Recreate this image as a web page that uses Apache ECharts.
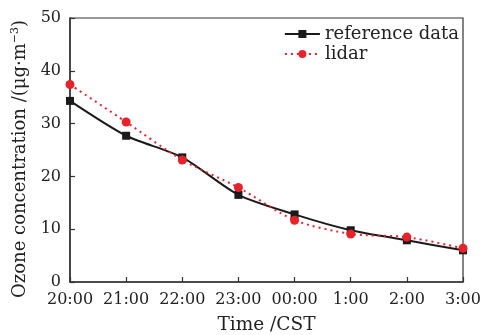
<!DOCTYPE html>
<html><head><meta charset="utf-8">
<script src="https://cdn.jsdelivr.net/npm/echarts@6/dist/echarts.min.js"></script>
<style>html,body{margin:0;padding:0;background:#fff}#c{width:483px;height:335px}</style>
</head><body><div id="c"></div>
<script>
const categories = ['20:00','21:00','22:00','23:00','00:00','1:00','2:00','3:00'];
const referenceData = [34.3, 27.7, 23.6, 16.5, 12.8, 9.8, 7.9, 6.0];
const lidarData = [37.4, 30.3, 23.1, 17.9, 11.7, 9.1, 8.5, 6.4];
const yTicks = [0, 10, 20, 30, 40, 50];

const font = 'DejaVu Serif';
const txt = '#222';
const chart = echarts.init(document.getElementById('c'));
chart.setOption({
  animation: false,
  textStyle: {fontFamily: font},
  grid: {left: 70, right: 20, top: 18, bottom: 53, show: true, borderColor: '#333', borderWidth: 1.2, outerBoundsMode: 'none', containLabel: false},
  legend: {
    top: 20, right: 19, orient: 'vertical', itemGap: 2,
    itemWidth: 35, itemHeight: 10,
    textStyle: {fontFamily: font, fontSize: 18, color: txt},
    data: ['reference data', 'lidar']
  },
  xAxis: {
    type: 'category', data: categories, boundaryGap: false,
    axisLine: {lineStyle: {color: '#333', width: 1.5}},
    axisTick: {inside: true, length: 5, interval: 0, lineStyle: {color: '#333', width: 1.2}},
    axisLabel: {fontSize: 16, color: txt, margin: 10, fontFamily: font, interval: 0},
    splitLine: {show: false},
    name: 'Time /CST', nameLocation: 'middle', nameGap: 34,
    nameTextStyle: {fontSize: 18.5, color: txt, fontFamily: font}
  },
  yAxis: {
    type: 'value', min: yTicks[0], max: yTicks[yTicks.length-1], interval: 10,
    axisLine: {show: true, lineStyle: {color: '#333', width: 1.5}},
    axisTick: {show: true, inside: true, length: 5, lineStyle: {color: '#333', width: 1.2}},
    axisLabel: {fontSize: 16, color: txt, margin: 9, fontFamily: font},
    splitLine: {show: false},
    name: '{n|Ozone concentration /(μg·m}{s|−3}{n|)}', nameLocation: 'middle', nameGap: 40,
    nameTextStyle: {
      fontSize: 18, color: txt, fontFamily: font, padding: [0, 18, 0, 0],
      rich: {n: {fontSize: 18, color: txt, fontFamily: font}, s: {fontSize: 11, color: txt, fontFamily: font, verticalAlign: 'top', padding: [0,0,9,0]}}
    }
  },
  series: [
    {
      name: 'reference data', type: 'line', data: referenceData, smooth: 0.25,
      symbol: 'rect', symbolSize: 8,
      lineStyle: {color: '#1a1a1a', width: 2},
      itemStyle: {color: '#1a1a1a'}
    },
    {
      name: 'lidar', type: 'line', data: lidarData, smooth: 0.25,
      symbol: 'circle', symbolSize: 9,
      lineStyle: {color: '#e8222b', width: 2, type: [2, 4]},
      itemStyle: {color: '#e8222b'}
    }
  ]
});
</script></body></html>
